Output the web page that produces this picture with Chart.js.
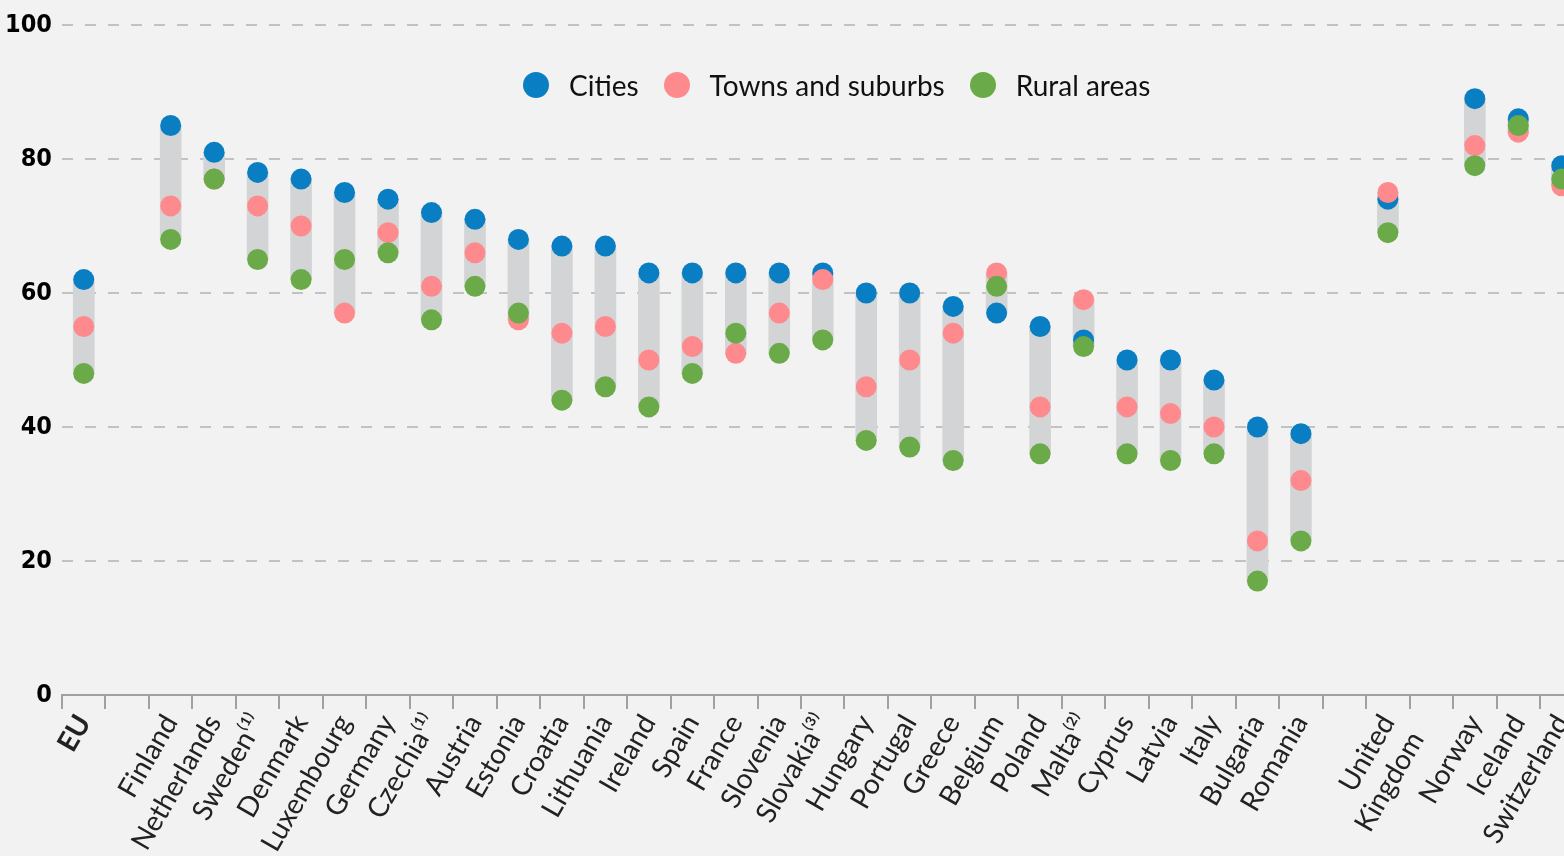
<!DOCTYPE html>
<html>
<head>
<meta charset="utf-8">
<script src="https://cdn.jsdelivr.net/npm/chart.js@4/dist/chart.umd.min.js"></script>
<style>
  html, body { margin: 0; padding: 0; background: #f2f2f2; overflow: hidden; }
  #wrap { position: relative; width: 1564px; height: 856px; overflow: hidden; }
  #c { position: absolute; left: 0; top: 0; }
  #legend {
    position: absolute; left: 523px; top: 68px;
    display: flex; align-items: center;
    font-family: Lato, "Open Sans", sans-serif; font-size: 28px; color: #111;
  }
  #legend span.dot { display: inline-block; width: 26px; height: 26px; border-radius: 50%; margin-right: 20px; }
  #legend span.lbl { margin-right: 25px; }
</style>
</head>
<body>
<div id="wrap">
  <canvas id="c" width="1594" height="856"></canvas>
  <div id="legend">
    <span class="dot" style="background:#0a7ec2"></span><span class="lbl">Cities</span>
    <span class="dot" style="background:#fe8a8e"></span><span class="lbl">Towns and suburbs</span>
    <span class="dot" style="background:#6aaa48"></span><span class="lbl">Rural areas</span>
  </div>
</div>
<script>
var countries = ['EU', '', 'Finland', 'Netherlands', 'Sweden⁽¹⁾', 'Denmark', 'Luxembourg', 'Germany',
  'Czechia⁽¹⁾', 'Austria', 'Estonia', 'Croatia', 'Lithuania', 'Ireland', 'Spain', 'France',
  'Slovenia', 'Slovakia⁽³⁾', 'Hungary', 'Portugal', 'Greece', 'Belgium', 'Poland', 'Malta⁽²⁾',
  'Cyprus', 'Latvia', 'Italy', 'Bulgaria', 'Romania', '', ['United', 'Kingdom'], '',
  'Norway', 'Iceland', 'Switzerland'];

var cities = [62, null, 85, 81, 78, 77, 75, 74, 72, 71, 68, 67, 67, 63, 63, 63, 63, 63, 60, 60, 58,
  57, 55, 53, 50, 50, 47, 40, 39, null, 74, null, 89, 86, 79];
var towns = [55, null, 73, 77, 73, 70, 57, 69, 61, 66, 56, 54, 55, 50, 52, 51, 57, 62, 46, 50, 54,
  63, 43, 59, 43, 42, 40, 23, 32, null, 75, null, 82, 84, 76];
var rural = [48, null, 68, 77, 65, 62, 65, 66, 56, 61, 57, 44, 46, 43, 48, 54, 51, 53, 38, 37, 35,
  61, 36, 52, 36, 35, 36, 17, 23, null, 69, null, 79, 85, 77];

var yTicks = [0, 20, 40, 60, 80, 100];

// gray range bar from lowest to highest value
var ranges = cities.map(function(c, i) {
  if (c === null) return null;
  var v = [c, towns[i], rural[i]];
  return [Math.min.apply(null, v), Math.max.apply(null, v)];
});

function dots(label, data, color, order) {
  return {
    type: 'line', label: label, data: data, showLine: false, order: order,
    pointRadius: 10.5, pointHoverRadius: 10.5, pointBorderWidth: 0,
    pointBackgroundColor: color, borderColor: color, backgroundColor: color
  };
}

var ctx = document.getElementById('c').getContext('2d');
new Chart(ctx, {
  type: 'bar',
  data: {
    labels: countries,
    datasets: [
      { type: 'bar', label: 'range', data: ranges, backgroundColor: '#d3d4d6', barThickness: 21, order: 4 },
      dots('Cities', cities, '#0a7ec2', 3),
      dots('Towns and suburbs', towns, '#fe8a8e', 2),
      dots('Rural areas', rural, '#6aaa48', 1)
    ]
  },
  options: {
    responsive: false,
    animation: false,
    layout: { padding: { top: 23, right: 0, left: 0, bottom: 0 } },
    plugins: { legend: { display: false }, tooltip: { enabled: false } },
    scales: {
      x: {
        offset: true,
        grid: { offset: true, drawOnChartArea: false, drawTicks: true, tickLength: 14, color: '#a0a0a0', lineWidth: 2 },
        border: { display: true, color: '#a0a0a0', width: 2 },
        ticks: {
          autoSkip: false, maxRotation: 60, minRotation: 60, padding: 0,
          color: '#222',
          font: function(c) {
            return { family: 'Lato, "Open Sans", sans-serif', size: 28, weight: c.index === 0 ? 'bold' : 'normal' };
          }
        },
        afterFit: function(s) { s.height = 161; }
      },
      y: {
        min: 0, max: 100,
        afterBuildTicks: function(s) { s.ticks = yTicks.map(function(v) { return { value: v }; }); },
        grid: {
          drawTicks: false, lineWidth: 2,
          color: function(c) { return c.tick && c.tick.value === 0 ? 'rgba(0,0,0,0)' : '#c2c2c2'; }
        },
        border: { display: false, dash: [11, 12] },
        ticks: {
          padding: 10, color: '#000',
          font: { family: '"DejaVu Sans Condensed", sans-serif', size: 25, weight: 'bold' }
        },
        afterFit: function(s) { s.width = 62; }
      }
    }
  }
});
</script>
</body>
</html>
